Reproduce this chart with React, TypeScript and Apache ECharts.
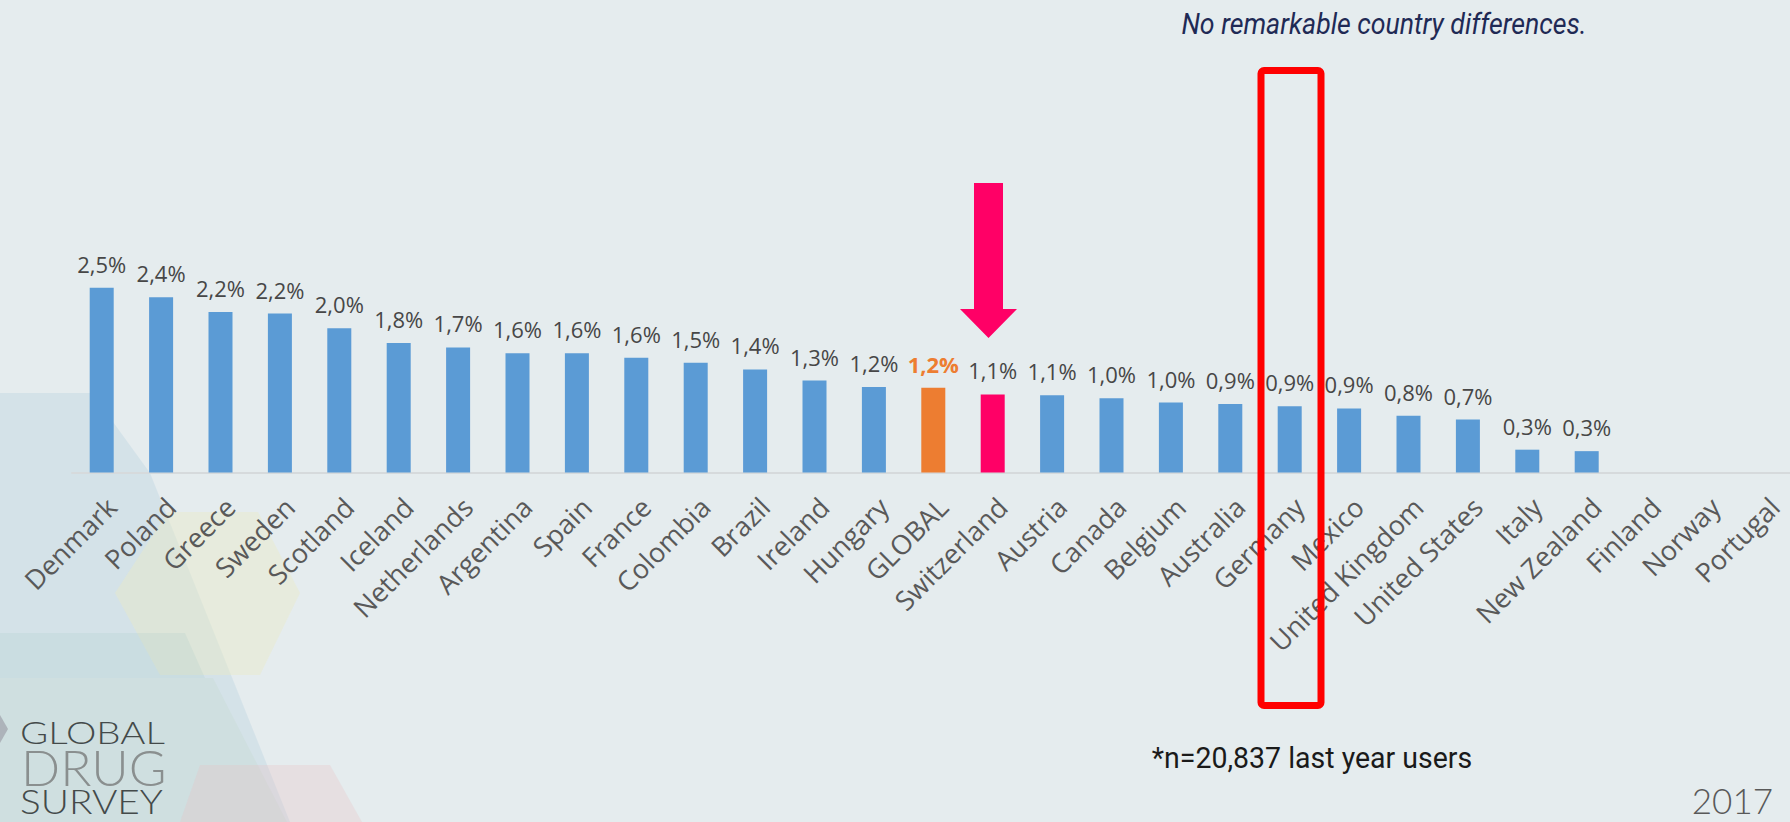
import React, { useEffect, useRef } from "react";
import * as echarts from "echarts";

const categories = [
  "Denmark", "Poland", "Greece", "Sweden", "Scotland", "Iceland", "Netherlands",
  "Argentina", "Spain", "France", "Colombia", "Brazil", "Ireland", "Hungary",
  "GLOBAL", "Switzerland", "Austria", "Canada", "Belgium", "Australia", "Germany",
  "Mexico", "United Kingdom", "United States", "Italy", "New Zealand", "Finland",
  "Norway", "Portugal",
];

const values: (number | null)[] = [
  2.51, 2.38, 2.18, 2.16, 1.96, 1.76, 1.7, 1.62, 1.62, 1.56, 1.49, 1.4, 1.25, 1.16,
  1.15, 1.06, 1.05, 1.01, 0.95, 0.93, 0.9, 0.87, 0.77, 0.72, 0.31, 0.29, null, null, null,
];

const BLUE = "#5B9BD5";
const ORANGE = "#ED7D31";
const PINK = "#FF0066";
const globalCategory = "GLOBAL";
const highlightCategory = "Switzerland";

const titleText = "No remarkable country differences.";
const footnoteText = "*n=20,837 last year users";
const yearText = "2017";
const logoLines = ["GLOBAL", "DRUG", "SURVEY"];

const fmt = (v: number) =>
  (Math.round(v * 10 + 1e-6) / 10).toFixed(1).replace(".", ",") + "%";

function buildOption() {
  const data = values.map((v, i) => {
    const c = categories[i];
    const color = c === globalCategory ? ORANGE : c === highlightCategory ? PINK : BLUE;
    const item: any = { value: v, itemStyle: { color } };
    if (c === globalCategory) {
      item.label = { color: ORANGE, fontWeight: "bold" };
    }
    return item;
  });

  return {
    animation: false,
    backgroundColor: "#E5ECEE",
    grid: {
      left: 72,
      right: -4.6,
      top: 251.7,
      bottom: 349.5,
      containLabel: false,
      outerBoundsMode: "none",
    },
    xAxis: {
      type: "category",
      data: categories,
      axisLine: { show: true, lineStyle: { color: "#D6DADC", width: 2 } },
      axisTick: { show: false },
      axisLabel: {
        interval: 0,
        rotate: 45,
        margin: 20,
        align: "right",
        verticalAlign: "top",
        fontSize: 27,
        fontFamily: "Open Sans",
        color: "#595959",
      },
    },
    yAxis: {
      type: "value",
      min: 0,
      max: 3,
      show: false,
      splitLine: { show: false },
    },
    series: [
      {
        type: "bar",
        data,
        barWidth: 24,
        label: {
          show: true,
          position: "top",
          distance: 13,
          fontSize: 22,
          fontFamily: "Open Sans",
          color: "#474747",
          formatter: (p: any) => (p.value == null ? "" : fmt(p.value)),
        },
      },
    ],
    graphic: [
      // faint background shapes
      {
        type: "polygon",
        z: -10,
        shape: { points: [[0, 393], [92, 393], [150, 473], [290, 822], [0, 822]] },
        style: { fill: "rgba(170,200,220,0.28)" },
        silent: true,
      },
      {
        type: "polygon",
        z: -9,
        shape: { points: [[168, 512], [258, 512], [300, 593], [260, 675], [160, 675], [115, 593]] },
        style: { fill: "rgba(235,235,195,0.4)" },
        silent: true,
      },
      {
        type: "polygon",
        z: -8,
        shape: { points: [[0, 633], [185, 633], [205, 678], [0, 678]] },
        style: { fill: "rgba(160,200,195,0.18)" },
        silent: true,
      },
      {
        type: "polygon",
        z: -8,
        shape: { points: [[0, 678], [213, 678], [287, 822], [0, 822]] },
        style: { fill: "rgba(190,215,195,0.2)" },
        silent: true,
      },
      {
        type: "polygon",
        z: -7,
        shape: { points: [[200, 765], [330, 765], [362, 822], [180, 822]] },
        style: { fill: "rgba(235,190,195,0.28)" },
        silent: true,
      },
      {
        type: "polygon",
        z: -7,
        shape: { points: [[0, 715], [8, 729], [0, 743]] },
        style: { fill: "rgba(150,150,160,0.6)" },
        silent: true,
      },
      // title
      {
        type: "text",
        x: 1384,
        y: 24,
        scaleX: 0.89,
        style: {
          text: titleText,
          align: "center",
          verticalAlign: "middle",
          fontSize: 30,
          fontStyle: "italic",
          fontFamily: "Roboto, sans-serif",
          fill: "#1F2A55",
        },
      },
      // arrow
      {
        type: "polygon",
        z: 50,
        shape: {
          points: [[974, 183], [1003, 183], [1003, 309], [1017, 309], [988.5, 338], [960, 309], [974, 309]],
        },
        style: { fill: PINK },
      },
      // red rectangle
      {
        type: "rect",
        z: 100,
        shape: { x: 1261, y: 70.5, width: 60, height: 635, r: 3 },
        style: { fill: "none", stroke: "#FF0000", lineWidth: 7 },
      },
      // footnote
      {
        type: "text",
        x: 1312,
        y: 758,
        scaleX: 0.95,
        style: {
          text: footnoteText,
          align: "center",
          verticalAlign: "middle",
          fontSize: 30,
          fontFamily: "Roboto, sans-serif",
          fill: "#1A1A1A",
        },
      },
      // year
      {
        type: "text",
        x: 1773,
        y: 800,
        style: {
          text: yearText,
          align: "right",
          verticalAlign: "middle",
          fontSize: 35,
          fontWeight: 300,
          fontFamily: "Lato, sans-serif",
          fill: "#595959",
        },
      },
      // logo
      {
        type: "text",
        x: 20,
        y: 732,
        scaleX: 1.2,
        style: {
          text: logoLines[0],
          align: "left",
          verticalAlign: "middle",
          fontSize: 32,
          fontWeight: 300,
          fontFamily: "Lato, sans-serif",
          fill: "#444A4A",
        },
      },
      {
        type: "text",
        x: 21,
        y: 767,
        scaleX: 1.03,
        style: {
          text: logoLines[1],
          align: "left",
          verticalAlign: "middle",
          fontSize: 50,
          fontWeight: 300,
          fontFamily: "Lato, sans-serif",
          fill: "#8A8F8F",
        },
      },
      {
        type: "text",
        x: 20,
        y: 801,
        scaleX: 1.14,
        style: {
          text: logoLines[2],
          align: "left",
          verticalAlign: "middle",
          fontSize: 34,
          fontWeight: 300,
          fontFamily: "Lato, sans-serif",
          fill: "#444A4A",
        },
      },
    ],
  };
}

export default function App() {
  const ref = useRef<HTMLDivElement>(null);
  useEffect(() => {
    if (!ref.current) return;
    const chart = echarts.init(ref.current, null, { renderer: "svg" });
    chart.setOption(buildOption() as any);
    return () => chart.dispose();
  }, []);
  return (
    <div
      ref={ref}
      style={{ position: "absolute", left: 0, top: 0, width: 1790, height: 822 }}
    />
  );
}
